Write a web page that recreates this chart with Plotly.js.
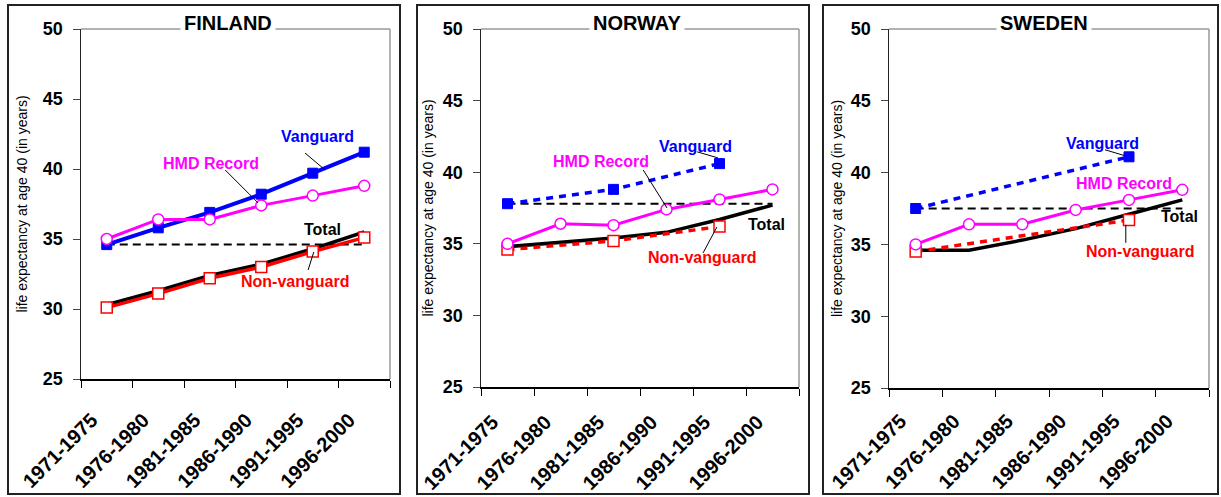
<!DOCTYPE html>
<html><head><meta charset="utf-8">
<script src="https://cdn.plot.ly/plotly-3.0.1.min.js"></script>
<style>html,body{margin:0;padding:0;background:#fff;} #chart{width:1221px;height:497px;}</style>
</head><body><div id="chart"></div>
<script>
// ---- data ----
const periods = ["1971-1975","1976-1980","1981-1985","1986-1990","1991-1995","1996-2000"];
const yTicks = [25, 30, 35, 40, 45, 50];

const finlandVanguard    = [34.6, 35.8, 36.9, 38.2, 39.7, 41.2];
const finlandHMD         = [35.0, 36.4, 36.4, 37.4, 38.1, 38.8];
const finlandTotal       = [30.3, 31.3, 32.4, 33.2, 34.3, 35.5];
const finlandNonVanguard = [30.1, 31.1, 32.2, 33.0, 34.1, 35.1];
const finlandBaseline    = [34.6, 34.6, 34.6, 34.6, 34.6, 34.6];

const norwayVanguard    = [37.8, null, 38.8, null, 40.6, null];
const norwayHMD         = [35.0, 36.4, 36.3, 37.4, 38.1, 38.8];
const norwayTotal       = [34.8, 35.1, 35.4, 35.8, 36.7, 37.7];
const norwayNonVanguard = [34.6, null, 35.2, null, 36.2, null];
const norwayBaseline    = [37.8, 37.8, 37.8, 37.8, 37.8, 37.8];

const swedenVanguard    = [37.5, null, null, null, 41.1, null];
const swedenHMD         = [35.0, 36.4, 36.4, 37.4, 38.1, 38.8];
const swedenTotal       = [34.6, 34.6, 35.3, 36.1, 37.1, 38.1];
const swedenNonVanguard = [34.5, null, null, null, 36.7, null];
const swedenBaseline    = [37.5, 37.5, 37.5, 37.5, 37.5, 37.5];

const countryNames = ["FINLAND", "NORWAY", "SWEDEN"];
const yTitle = "life expectancy at age 40 (in years)";

// ---- styling / layout ----
const W = 1221, H = 497;
const FONT = "Liberation Sans, Arial, sans-serif";
const BLUE = "#0000FF", MAG = "#FF00FF", RED = "#FF0000", BLK = "#000000";

const panels = [
  {name: countryNames[0], v: finlandVanguard, h: finlandHMD, t: finlandTotal, n: finlandNonVanguard, b: finlandBaseline,
   dashed: false, box: [8, 400], plotX: [81, 390], plotY: [29, 379], titleX: 228, yTitleStandoff: 12, xLabStandoff: 20,
   labels: {
     v: {x: 4.09, y: 42.3, lead: [3.85, 41.14, 4.24, 39.93]},
     h: {x: 2.02, y: 40.36, lead: [2.30, 39.93, 2.94, 37.57]},
     t: {x: 4.18, y: 35.71, lead: null},
     n: {x: 3.66, y: 31.93, lead: [3.91, 32.79, 4.02, 34.07]}
   }},
  {name: countryNames[1], v: norwayVanguard, h: norwayHMD, t: norwayTotal, n: norwayNonVanguard, b: norwayBaseline,
   dashed: true, box: [417, 809], plotX: [481, 799], plotY: [29, 387], titleX: 637, yTitleStandoff: 6, xLabStandoff: 14,
   labels: {
     v: {x: 3.54, y: 41.77, lead: [3.58, 41.42, 3.97, 41.0]},
     h: {x: 1.76, y: 40.72, lead: [2.56, 40.16, 3.01, 37.5]},
     t: {x: 4.88, y: 36.38, lead: null},
     n: {x: 3.67, y: 34.01, lead: [3.69, 34.36, 3.95, 36.17]}
   }},
  {name: countryNames[2], v: swedenVanguard, h: swedenHMD, t: swedenTotal, n: swedenNonVanguard, b: swedenBaseline,
   dashed: true, box: [823, 1218], plotX: [889, 1209], plotY: [29, 388], titleX: 1044, yTitleStandoff: 5, xLabStandoff: 12,
   labels: {
     v: {x: 3.51, y: 42.01, lead: [3.55, 41.59, 3.93, 41.17]},
     h: {x: 3.91, y: 39.22, lead: null},
     t: {x: 4.94, y: 36.92, lead: null},
     n: {x: 4.21, y: 34.48, lead: [3.94, 35.11, 3.94, 36.36]}
   }}
];

const data = [];
const layout = {
  width: W, height: H,
  margin: {l: 0, r: 0, t: 0, b: 0},
  paper_bgcolor: "#fff", plot_bgcolor: "#fff",
  showlegend: false,
  font: {family: FONT, color: "#000"},
  shapes: [], annotations: []
};

panels.forEach((p, i) => {
  const sfx = i === 0 ? "" : String(i + 1);
  const xa = "x" + sfx, ya = "y" + sfx;
  const dashV = p.dashed ? "7px,6px" : "solid";
  const dashN = p.dashed ? "7px,6px" : "solid";

  data.push({x: periods, y: p.b, xaxis: xa, yaxis: ya, type: "scatter", mode: "lines",
    line: {color: BLK, width: 2, dash: "8px,5px"}, hoverinfo: "skip"});
  data.push({x: periods, y: p.t, xaxis: xa, yaxis: ya, type: "scatter", mode: "lines", name: "Total",
    line: {color: BLK, width: 3.5}});
  data.push({x: periods, y: p.n, xaxis: xa, yaxis: ya, type: "scatter", mode: "lines+markers", name: "Non-vanguard",
    connectgaps: true,
    line: {color: RED, width: 3.5, dash: dashN},
    marker: {symbol: "square", size: 11, color: "#fff", line: {color: RED, width: 1.5}}});
  data.push({x: periods, y: p.v, xaxis: xa, yaxis: ya, type: "scatter", mode: "lines+markers", name: "Vanguard",
    connectgaps: true,
    line: {color: BLUE, width: p.dashed ? 3.5 : 4, dash: dashV},
    marker: {symbol: "square", size: 10, color: BLUE, line: {color: BLUE, width: 1}}});
  data.push({x: periods, y: p.h, xaxis: xa, yaxis: ya, type: "scatter", mode: "lines+markers", name: "HMD Record",
    line: {color: MAG, width: 3},
    marker: {symbol: "circle", size: 11, color: "#fff", line: {color: MAG, width: 1.5}}});

  layout["xaxis" + sfx] = {
    domain: [p.plotX[0] / W, p.plotX[1] / W],
    anchor: ya, type: "category", categoryarray: periods, range: [-0.5, 5.5],
    tickson: "boundaries", ticks: "outside", ticklen: 7, tickcolor: "#000", tickwidth: 1,
    showline: true, linecolor: "#000", linewidth: 1.5, showgrid: false, zeroline: false,
    tickangle: -45, ticklabelstandoff: p.xLabStandoff, ticklabelshift: -15,
    tickfont: {family: FONT, size: 20, weight: "bold", color: "#000"},
    fixedrange: true
  };
  layout["yaxis" + sfx] = {
    domain: [1 - p.plotY[1] / H, 1 - p.plotY[0] / H],
    anchor: xa, range: [25, 50], tickvals: yTicks, ticks: "outside", ticklen: 7,
    tickcolor: "#444", tickwidth: 1, showline: true, linecolor: "#222", linewidth: 1.5,
    showgrid: false, zeroline: false, ticklabelstandoff: 6,
    tickfont: {family: FONT, size: 18, weight: "bold", color: "#000"},
    title: {text: yTitle, font: {family: FONT, size: 14, color: "#000"}, standoff: p.yTitleStandoff},
    fixedrange: true
  };

  // panel outer box
  layout.shapes.push({type: "rect", xref: "paper", yref: "paper",
    x0: p.box[0] / W, x1: p.box[1] / W, y0: 1 - 494 / H, y1: 1 - 5 / H,
    line: {color: "#222", width: 2}, fillcolor: "rgba(0,0,0,0)", layer: "below"});
  // plot area top and right borders (gray)
  layout.shapes.push({type: "line", xref: xa + " domain", yref: ya + " domain", x0: 0, x1: 1, y0: 1, y1: 1,
    line: {color: "#999", width: 1.5}});
  layout.shapes.push({type: "line", xref: xa + " domain", yref: ya + " domain", x0: 1, x1: 1, y0: 0, y1: 1,
    line: {color: "#999", width: 1.5}});

  // country title with white background
  layout.annotations.push({xref: "paper", yref: "paper", x: p.titleX / W, y: 1 - 23 / H,
    text: p.name, showarrow: false, xanchor: "center", yanchor: "middle",
    font: {family: FONT, size: 20, weight: "bold", color: "#000"}, bgcolor: "#fff", borderpad: 3});

  const lab = [
    {k: "v", text: "Vanguard", color: BLUE},
    {k: "h", text: "HMD Record", color: MAG},
    {k: "t", text: "Total", color: BLK},
    {k: "n", text: "Non-vanguard", color: RED}
  ];
  lab.forEach(l => {
    const a = p.labels[l.k];
    layout.annotations.push({xref: xa, yref: ya, x: a.x, y: a.y, text: l.text, showarrow: false,
      xanchor: "center", yanchor: "middle",
      font: {family: FONT, size: 16, weight: "bold", color: l.color}});
    if (a.lead) {
      layout.shapes.push({type: "line", xref: xa, yref: ya,
        x0: a.lead[0], y0: a.lead[1], x1: a.lead[2], y1: a.lead[3],
        line: {color: "#000", width: 1}});
    }
  });
});

Plotly.newPlot("chart", data, layout, {staticPlot: true, displayModeBar: false});
</script>
</body></html>
